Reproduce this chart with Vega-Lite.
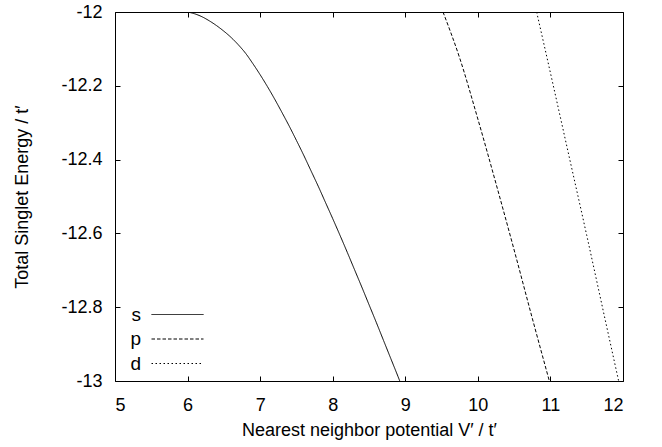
{
  "$schema": "https://vega.github.io/schema/vega-lite/v6.json",
  "width": 508,
  "height": 369,
  "autosize": {"type": "none"},
  "padding": {"left": 115, "top": 12, "right": 39, "bottom": 66},
  "background": "white",
  "config": {
    "font": "Liberation Sans",
    "view": {"stroke": "#000", "strokeWidth": 1},
    "axis": {
      "grid": false,
      "domain": false,
      "tickColor": "#000",
      "tickSize": -5,
      "tickWidth": 1,
      "labelFont": "Liberation Sans",
      "labelFontSize": 18,
      "labelColor": "#000",
      "titleFont": "Liberation Sans",
      "titleFontSize": 18,
      "titleFontWeight": "normal",
      "titleColor": "#000"
    }
  },
  "data": {
    "values": [
      {"V": 6.0, "E": -12.0, "orbital": "s"},
      {"V": 6.1, "E": -12.005, "orbital": "s"},
      {"V": 6.2, "E": -12.013, "orbital": "s"},
      {"V": 6.3, "E": -12.024, "orbital": "s"},
      {"V": 6.4, "E": -12.037, "orbital": "s"},
      {"V": 6.5, "E": -12.052, "orbital": "s"},
      {"V": 6.6, "E": -12.069, "orbital": "s"},
      {"V": 6.7, "E": -12.089, "orbital": "s"},
      {"V": 6.8, "E": -12.112, "orbital": "s"},
      {"V": 6.9, "E": -12.14, "orbital": "s"},
      {"V": 7.0, "E": -12.17, "orbital": "s"},
      {"V": 7.1, "E": -12.202, "orbital": "s"},
      {"V": 7.2, "E": -12.236, "orbital": "s"},
      {"V": 7.3, "E": -12.272, "orbital": "s"},
      {"V": 7.4, "E": -12.309, "orbital": "s"},
      {"V": 7.5, "E": -12.348, "orbital": "s"},
      {"V": 7.6, "E": -12.388, "orbital": "s"},
      {"V": 7.7, "E": -12.43, "orbital": "s"},
      {"V": 7.8, "E": -12.472, "orbital": "s"},
      {"V": 7.9, "E": -12.516, "orbital": "s"},
      {"V": 8.0, "E": -12.56, "orbital": "s"},
      {"V": 8.1, "E": -12.605, "orbital": "s"},
      {"V": 8.2, "E": -12.651, "orbital": "s"},
      {"V": 8.3, "E": -12.698, "orbital": "s"},
      {"V": 8.4, "E": -12.745, "orbital": "s"},
      {"V": 8.5, "E": -12.793, "orbital": "s"},
      {"V": 8.6, "E": -12.841, "orbital": "s"},
      {"V": 8.7, "E": -12.89, "orbital": "s"},
      {"V": 8.8, "E": -12.939, "orbital": "s"},
      {"V": 8.9, "E": -12.988, "orbital": "s"},
      {"V": 8.924, "E": -13.0, "orbital": "s"},
      {"V": 9.52, "E": -12.0, "orbital": "p"},
      {"V": 9.75, "E": -12.125, "orbital": "p"},
      {"V": 10.0, "E": -12.29, "orbital": "p"},
      {"V": 10.25, "E": -12.465, "orbital": "p"},
      {"V": 10.5, "E": -12.645, "orbital": "p"},
      {"V": 10.75, "E": -12.83, "orbital": "p"},
      {"V": 10.985, "E": -13.0, "orbital": "p"},
      {"V": 10.81, "E": -12.0, "orbital": "d"},
      {"V": 11.0, "E": -12.165, "orbital": "d"},
      {"V": 11.25, "E": -12.385, "orbital": "d"},
      {"V": 11.5, "E": -12.605, "orbital": "d"},
      {"V": 11.75, "E": -12.83, "orbital": "d"},
      {"V": 11.94, "E": -13.0, "orbital": "d"}
    ]
  },
  "layer": [
    {
      "mark": {"type": "line", "color": "#000", "strokeWidth": 1, "clip": true, "interpolate": "monotone"},
      "encoding": {
        "x": {
          "field": "V", "type": "quantitative",
          "scale": {"domain": [5, 12], "nice": false, "zero": false},
          "axis": {"orient": "bottom", "values": [5, 6, 7, 8, 9, 10, 11, 12], "title": "Nearest neighbor potential V′ / t′", "labelPadding": 20, "titlePadding": 7, "labelExpr": "'' + datum.value"}
        },
        "y": {
          "field": "E", "type": "quantitative",
          "scale": {"domain": [-13, -12], "nice": false, "zero": false},
          "axis": {"orient": "left", "values": [-13, -12.8, -12.6, -12.4, -12.2, -12], "title": "Total Singlet Energy / t′", "labelPadding": 18, "titlePadding": 29, "labelExpr": "'' + datum.value"}
        },
        "strokeDash": {
          "field": "orbital", "type": "nominal",
          "scale": {"domain": ["s", "p", "d"], "range": [[1, 0], [3.5, 2], [1.5, 2.5]]},
          "legend": {
            "orient": "none", "legendX": 53, "legendY": 293, "title": null,
            "symbolType": "M-4,0H4", "symbolSize": 169, "symbolStrokeWidth": 1, "symbolStrokeColor": "#000", "symbolFillColor": "transparent",
            "labelAlign": "right", "labelOffset": -46, "labelFontSize": 19, "labelFont": "Liberation Sans", "labelColor": "#000",
            "rowPadding": 4.5
          }
        }
      }
    },
    {
      "mark": {"type": "line", "strokeOpacity": 0, "clip": true},
      "encoding": {
        "x": {"field": "V", "type": "quantitative", "axis": {"orient": "top", "values": [5, 6, 7, 8, 9, 10, 11, 12], "labels": false, "title": null}},
        "y": {"field": "E", "type": "quantitative", "axis": {"orient": "right", "values": [-13, -12.8, -12.6, -12.4, -12.2, -12], "labels": false, "title": null}},
        "detail": {"field": "orbital"}
      }
    }
  ],
  "resolve": {"axis": {"x": "independent", "y": "independent"}}
}
